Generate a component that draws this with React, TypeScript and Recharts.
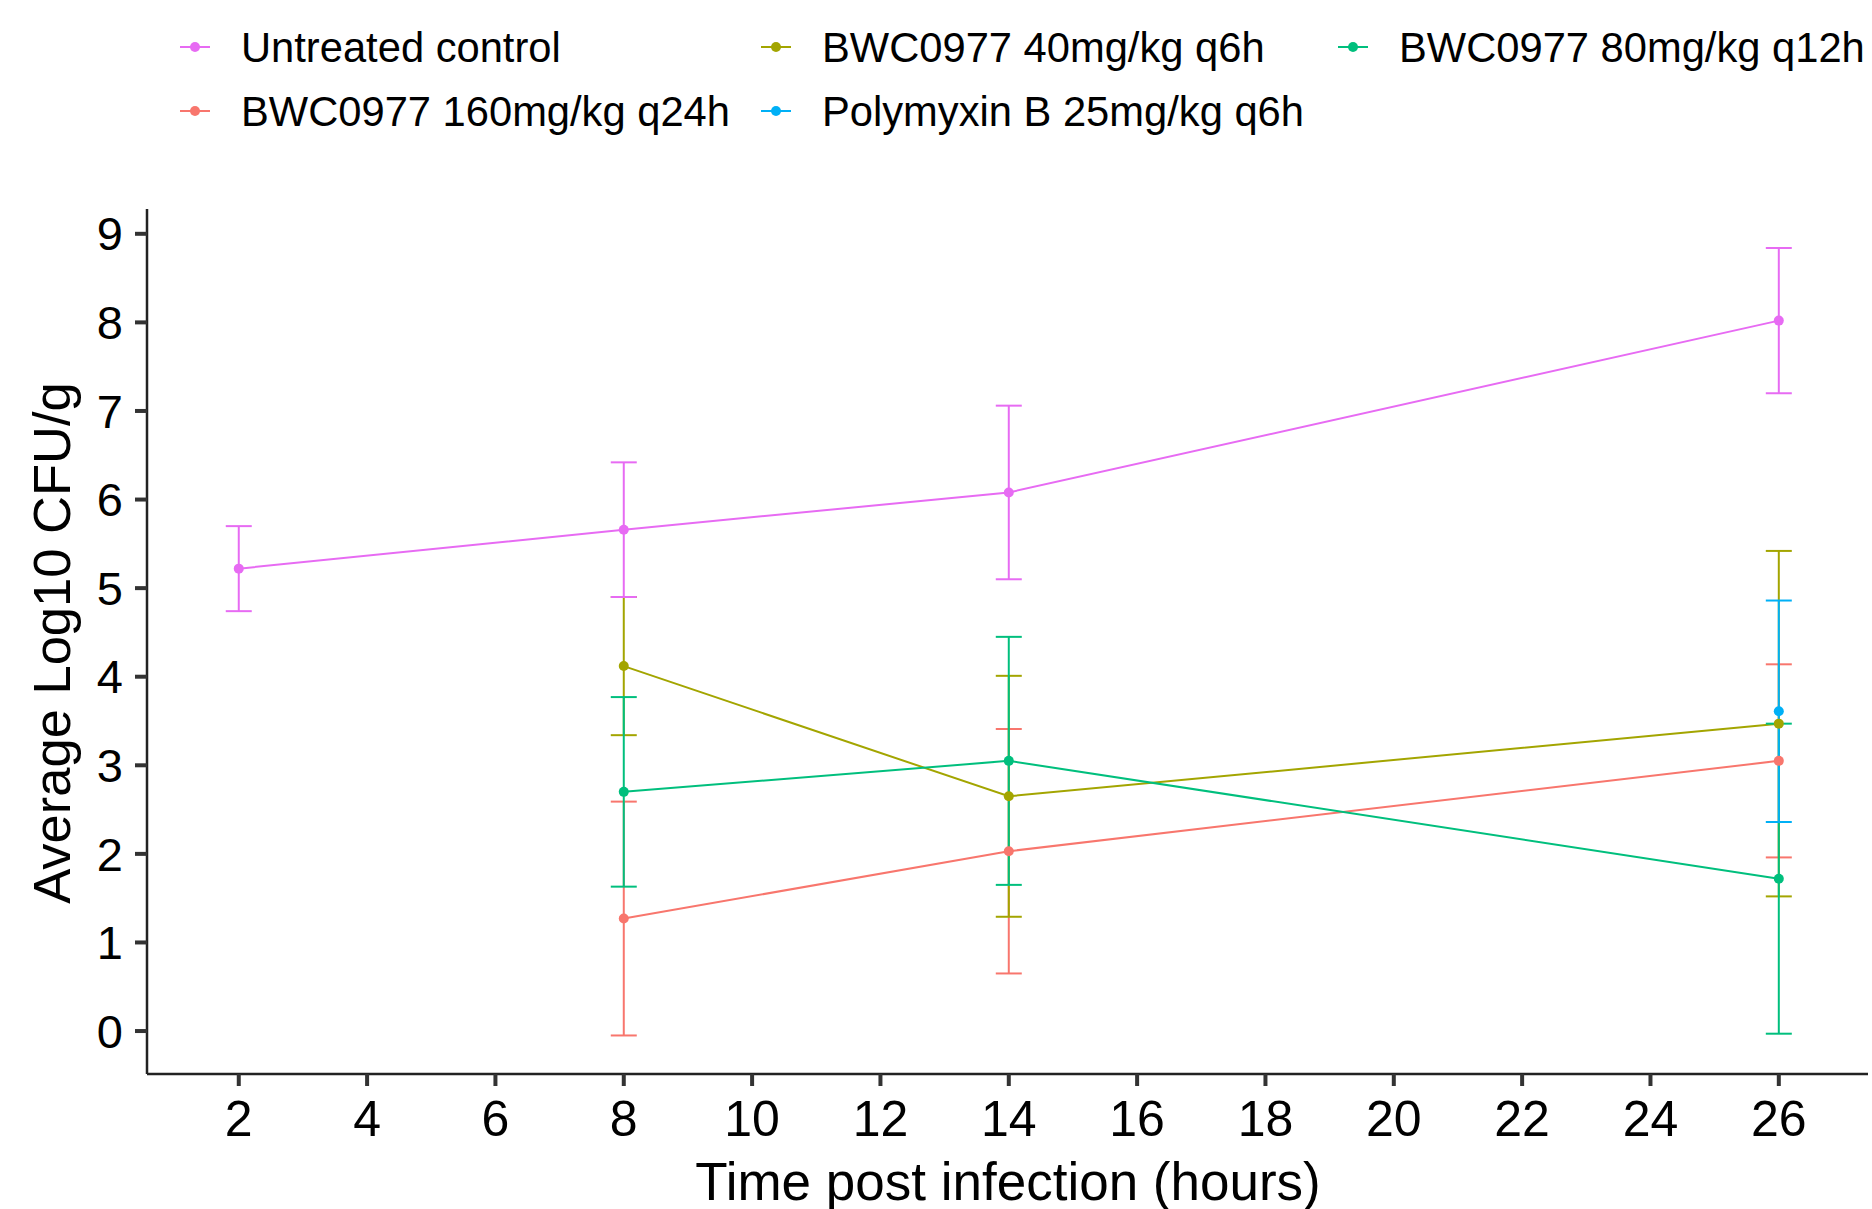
import { ComposedChart, ErrorBar, Line, XAxis, YAxis } from "recharts";

// sampling times (hours) per group
const controlTimes = [2, 8, 14, 26];
const treatTimes = [8, 14, 26];
const polyTimes = [26];

// mean log10 CFU/g and +/- error
const controlMean = [5.22, 5.66, 6.08, 8.02];
const controlErr = [0.48, 0.76, 0.98, 0.82];
const bwc40Mean = [4.12, 2.65, 3.47];
const bwc40Err = [0.78, 1.36, 1.95];
const bwc80Mean = [2.7, 3.05, 1.72];
const bwc80Err = [1.07, 1.4, 1.75];
const bwc160Mean = [1.27, 2.03, 3.05];
const bwc160Err = [1.32, 1.38, 1.09];
const polyMean = [3.61];
const polyErr = [1.25];

const xTicks = [2, 4, 6, 8, 10, 12, 14, 16, 18, 20, 22, 24, 26];
const yTicks = [0, 1, 2, 3, 4, 5, 6, 7, 8, 9];

const FONT = "'Liberation Sans', Arial, Helvetica, sans-serif";

type Series = { name: string; color: string; times: number[]; mean: number[]; err: number[] };

// draw order follows ggplot factor order (alphabetical), control on top
const series: Series[] = [
  { name: "BWC0977 160mg/kg q24h", color: "#F8766D", times: treatTimes, mean: bwc160Mean, err: bwc160Err },
  { name: "BWC0977 40mg/kg q6h", color: "#A3A500", times: treatTimes, mean: bwc40Mean, err: bwc40Err },
  { name: "BWC0977 80mg/kg q12h", color: "#00BF7D", times: treatTimes, mean: bwc80Mean, err: bwc80Err },
  { name: "Polymyxin B 25mg/kg q6h", color: "#00B0F6", times: polyTimes, mean: polyMean, err: polyErr },
  { name: "Untreated control", color: "#E76BF3", times: controlTimes, mean: controlMean, err: controlErr },
];

// legend reading order (3 per row)
const legendOrder = [
  "Untreated control",
  "BWC0977 40mg/kg q6h",
  "BWC0977 80mg/kg q12h",
  "BWC0977 160mg/kg q24h",
  "Polymyxin B 25mg/kg q6h",
];
const legendCols = [180, 761, 1338];
const legendRows = [47, 111];

const toRows = (s: Series) => s.times.map((t, i) => ({ t, v: s.mean[i], e: s.err[i] }));

function LegendBlock() {
  return (
    <>
      {legendOrder.map((name, i) => {
        const s = series.find((d) => d.name === name)!;
        const left = legendCols[i % 3];
        const top = legendRows[Math.floor(i / 3)];
        return (
          <div
            key={name}
            style={{ position: "absolute", left, top: top - 20, height: 40, display: "flex", alignItems: "center", whiteSpace: "nowrap" }}
          >
            <svg width={30} height={16} style={{ marginRight: 31 }}>
              <line x1={0} y1={8} x2={30} y2={8} stroke={s.color} strokeWidth={2} />
              <circle cx={15} cy={8} r={5} fill={s.color} />
            </svg>
            <span style={{ fontFamily: FONT, fontSize: 41.7, color: "#000", lineHeight: "40px", marginTop: 1 }}>{name}</span>
          </div>
        );
      })}
    </>
  );
}

export default function App() {
  return (
    <div style={{ position: "relative", width: 1872, height: 1209, background: "#fff", overflow: "hidden" }}>
      <style>{"body{margin:0}"}</style>
      <LegendBlock />
      <ComposedChart width={1872} height={1209} margin={{ top: 209, right: 4, bottom: 0, left: 47 }}>
        <XAxis
          type="number"
          dataKey="t"
          domain={[0.57, 27.39]}
          ticks={xTicks}
          allowDataOverflow
          height={135}
          tickSize={12}
          tickMargin={14}
          axisLine={{ stroke: "#222", strokeWidth: 2.5 }}
          tickLine={{ stroke: "#333", strokeWidth: 4 }}
          tick={{ fontSize: 50, fill: "#000", fontFamily: FONT }}
          interval={0}
        />
        <YAxis
          type="number"
          domain={[-0.485, 9.28]}
          ticks={yTicks}
          allowDataOverflow
          width={100}
          tickSize={12}
          tickMargin={12}
          axisLine={{ stroke: "#222", strokeWidth: 2.5 }}
          tickLine={{ stroke: "#333", strokeWidth: 4 }}
          tick={{ fontSize: 47, fill: "#000", fontFamily: FONT }}
          interval={0}
        />
        {series.map((s) => (
          <Line
            key={s.name}
            data={toRows(s)}
            dataKey="v"
            name={s.name}
            type="linear"
            stroke={s.color}
            strokeWidth={2}
            dot={{ r: 5, fill: s.color, stroke: s.color, strokeWidth: 0 }}
            activeDot={false}
            isAnimationActive={false}
          >
            <ErrorBar dataKey="e" direction="y" width={13} stroke={s.color} strokeWidth={2} isAnimationActive={false} />
          </Line>
        ))}
      </ComposedChart>
      <div
        style={{
          position: "absolute",
          left: 1008,
          top: 1182,
          transform: "translate(-50%, -50%)",
          fontFamily: FONT,
          fontSize: 53,
          lineHeight: "50px",
          whiteSpace: "nowrap",
          color: "#000",
        }}
      >
        Time post infection (hours)
      </div>
      <div
        style={{
          position: "absolute",
          left: 52,
          top: 643,
          transform: "translate(-50%, -50%) rotate(-90deg)",
          fontFamily: FONT,
          fontSize: 52.5,
          lineHeight: "50px",
          whiteSpace: "nowrap",
          color: "#000",
        }}
      >
        Average Log10 CFU/g
      </div>
    </div>
  );
}
